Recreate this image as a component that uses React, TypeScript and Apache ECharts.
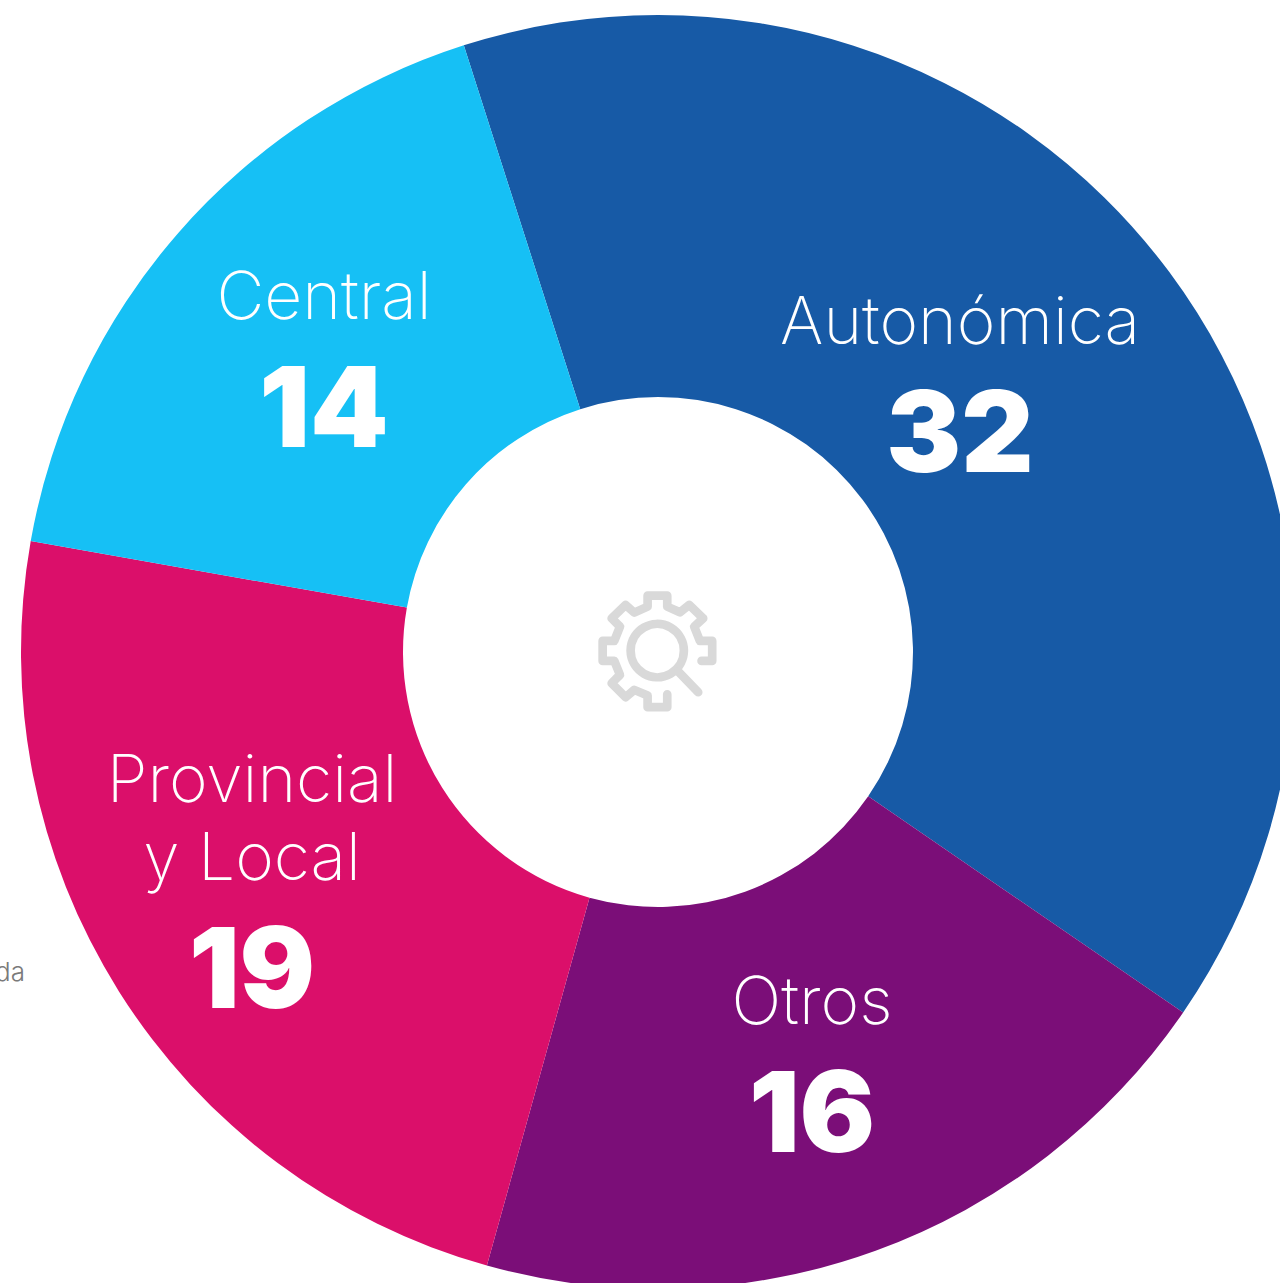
import React, { useEffect, useRef } from "react";
import * as echarts from "echarts";

const categories = ["Autonómica", "Otros", "Provincial\ny Local", "Central"];
const values = [32, 16, 19, 14];
const colors = ["#175AA6", "#7B0E78", "#DB0F6A", "#16C0F5"];
const labelCentres: [number, number][] = [
  [960, 392],
  [812, 1072],
  [252, 889],
  [324, 367],
];
const strayText = "da";
const gearPoints: [number, number][] = [
  [365, 258], [397, 258], [397, 198], [360, 198], [343, 155], [370, 130], [328, 90], [300, 112],
  [262, 95], [262, 62], [203, 62], [203, 95], [163, 113], [137, 90], [95, 130], [120, 155],
  [103, 198], [68, 198], [68, 258], [103, 258], [120, 300], [95, 325], [137, 367], [163, 345],
  [203, 362], [203, 397], [262, 397], [262, 358],
];

export default function App() {
  const ref = useRef<HTMLDivElement>(null);
  useEffect(() => {
    const chart = echarts.init(ref.current!, undefined, { renderer: "svg" });
    const iconStroke = { stroke: "#D9D9D9", lineWidth: 26, fill: "none", lineCap: "round", lineJoin: "round" };
    chart.setOption({
      animation: false,
      backgroundColor: "#ffffff",
      series: [
        {
          type: "pie",
          center: [658, 652],
          radius: [255, 637],
          startAngle: 107.75,
          clockwise: true,
          silent: true,
          avoidLabelOverlap: false,
          data: categories.map((name, i) => ({ name, value: values[i], itemStyle: { color: colors[i] } })),
          labelLine: { show: false },
          label: {
            show: true,
            position: "inside",
            color: "#ffffff",
            formatter: (p: any) =>
              String(p.name).split("\n").map((s) => `{n|${s}}`).join("\n") + `\n{v|${p.value}}`,
            rich: {
              n: { fontFamily: "Inter", fontWeight: 200, fontSize: 66, lineHeight: 78, color: "#ffffff", align: "center" },
              v: { fontFamily: "Inter", fontWeight: 900, fontSize: 112, lineHeight: 145, color: "#ffffff", align: "center" },
            },
          },
          labelLayout: (p: any) => ({
            x: labelCentres[p.dataIndex][0],
            y: labelCentres[p.dataIndex][1],
            align: "center",
            verticalAlign: "middle",
          }),
        },
      ],
      graphic: [
        {
          type: "text",
          x: -5,
          y: 958,
          silent: true,
          style: { text: strayText, fontFamily: "Inter", fontWeight: 300, fontSize: 26, fill: "#7A7A7A" },
        },
        {
          type: "group",
          x: 580,
          y: 575,
          scaleX: 1 / 3,
          scaleY: 1 / 3,
          silent: true,
          children: [
            { type: "polyline", shape: { points: gearPoints }, style: iconStroke },
            { type: "circle", shape: { cx: 232, cy: 227, r: 80 }, style: iconStroke },
            { type: "line", shape: { x1: 295, y1: 290, x2: 355, y2: 352 }, style: iconStroke },
          ],
        },
      ],
    });
    return () => chart.dispose();
  }, []);
  return <div ref={ref} style={{ position: "absolute", left: 0, top: 0, width: 1280, height: 1283, overflow: "hidden" }} />;
}
